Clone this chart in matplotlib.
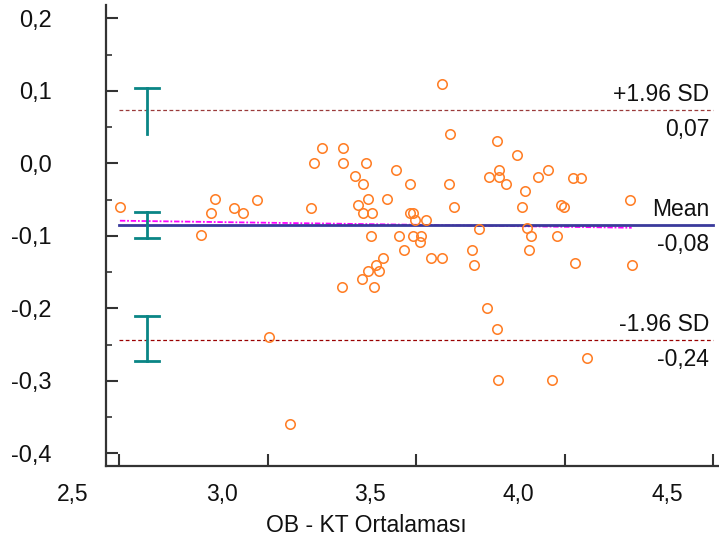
import matplotlib
matplotlib.use("Agg")
import matplotlib.pyplot as plt
from matplotlib.transforms import ScaledTranslation
import numpy as np

plt.rcParams['font.family'] = ['Liberation Sans', 'DejaVu Sans']

# ---- data ----
mean_x = [2.503, 2.776, 2.810, 2.823, 2.887, 2.919, 2.963, 3.005, 3.076, 3.145,
          3.155, 3.185, 3.253, 3.253, 3.250, 3.296, 3.304, 3.317, 3.321, 3.321,
          3.333, 3.338, 3.337, 3.347, 3.351, 3.359, 3.364, 3.374, 3.390, 3.402,
          3.432, 3.444, 3.458, 3.478, 3.479, 3.491, 3.496, 3.491, 3.512, 3.518,
          3.534, 3.552, 3.589, 3.589, 3.612, 3.615, 3.628, 3.688, 3.696, 3.713,
          3.738, 3.747, 3.772, 3.773, 3.776, 3.779, 3.781, 3.803, 3.841, 3.866,
          3.858, 3.875, 3.888, 3.879, 3.909, 3.943, 3.959, 3.976, 3.988, 3.997,
          4.027, 4.034, 4.057, 4.074, 4.221, 4.226]
diff_y = [-0.060, -0.099, -0.069, -0.049, -0.061, -0.069, -0.050, -0.239, -0.359, -0.061,
          0.001, 0.021, 0.021, 0.001, -0.170, -0.018, -0.058, -0.160, -0.028, -0.069,
          0.001, -0.049, -0.149, -0.100, -0.069, -0.170, -0.140, -0.149, -0.130, -0.049,
          -0.009, -0.100, -0.119, -0.028, -0.068, -0.068, -0.078, -0.100, -0.109, -0.100,
          -0.078, -0.130, -0.130, 0.110, -0.028, 0.041, -0.060, -0.119, -0.140, -0.090,
          -0.199, -0.019, -0.229, 0.031, -0.299, -0.019, -0.009, -0.028, 0.012, -0.038,
          -0.060, -0.089, -0.100, -0.120, -0.019, -0.009, -0.299, -0.100, -0.058, -0.060,
          -0.020, -0.138, -0.020, -0.269, -0.050, -0.140]

mean_diff = -0.085
upper_loa = 0.0735
lower_loa = -0.2437
line_x = [2.5, 4.5]

# regression line end values (at min and max of x)
reg_y = [-0.0792, -0.0889]

# confidence intervals of mean and limits
ci_x = 2.595
ci_upper = [0.0404, 0.1034]
ci_mean = [-0.103, -0.0668]
ci_lower = [-0.2731, -0.2106]

x_ticks = [2.5, 3.0, 3.5, 4.0, 4.5]
x_ticklabels = ['2,5', '3,0', '3,5', '4,0', '4,5']
y_ticks = [-0.4, -0.3, -0.2, -0.1, 0.0, 0.1, 0.2]
y_ticklabels = ['-0,4', '-0,3', '-0,2', '-0,1', '0,0', '0,1', '0,2']
y_minor = [-0.35, -0.25, -0.15, -0.05, 0.05, 0.15]

labels_above = ['+1.96 SD', 'Mean', '-1.96 SD']
labels_below = ['0,07', '-0,08', '-0,24']
xlabel = 'OB - KT Ortalaması'

# ---- figure ----
fig = plt.figure(figsize=(7.19, 5.43), dpi=100)
ax = fig.add_axes([106/719, 77/543, 613/719, 461/543])

ax.set_xlim(2.4562, 4.520)
ax.set_ylim(-0.4175, 0.2183)

# limits of agreement
ax.plot(line_x, [upper_loa]*2, color='#9a3a3a', lw=0.9, ls=(0, (3, 2)), zorder=2)
ax.plot(line_x, [lower_loa]*2, color='#990000', lw=0.9, ls=(0, (3, 2)), zorder=2)
# regression line
ax.plot([min(mean_x), max(mean_x)], reg_y, color='#ff00ff', lw=1.3,
        ls=(0, (3, 1, 1, 1)), zorder=2)
# mean line
ax.plot(line_x, [mean_diff]*2, color='#3a3a9c', lw=2.0, zorder=3)

# confidence intervals
teal = '#0a8585'
cap = 0.04
for lo, hi, caps in [(ci_upper[0], ci_upper[1], 'top'),
                     (ci_mean[0], ci_mean[1], 'both'),
                     (ci_lower[0], ci_lower[1], 'both')]:
    ax.plot([ci_x, ci_x], [lo, hi], color=teal, lw=2.0, zorder=4)
    ax.plot([ci_x - cap, ci_x + cap], [hi, hi], color=teal, lw=2.0, zorder=4)
    if caps == 'both':
        ax.plot([ci_x - cap, ci_x + cap], [lo, lo], color=teal, lw=2.0, zorder=4)

# points
ax.plot(mean_x, diff_y, ls='none', marker='o', ms=6.8, mfc='none',
        mec='#ff7f27', mew=1.15, zorder=5)

# right-side labels
xr = 4.487
for lvl, ta, tb in zip([upper_loa, mean_diff, lower_loa], labels_above, labels_below):
    ax.annotate(ta, xy=(xr, lvl), xytext=(0, 6.5), textcoords='offset points',
                ha='right', va='baseline', fontsize=16.5, color='#111111')
    ax.annotate(tb, xy=(xr, lvl), xytext=(0, -19), textcoords='offset points',
                ha='right', va='baseline', fontsize=16.5, color='#111111')

# axes styling
for s in ['top', 'right']:
    ax.spines[s].set_visible(False)
for s in ['left', 'bottom']:
    ax.spines[s].set_linewidth(1.6)
    ax.spines[s].set_color('#333333')

ax.set_xticks(x_ticks)
ax.set_xticklabels(x_ticklabels)
ax.set_yticks(y_ticks)
ax.set_yticklabels(y_ticklabels)
ax.set_yticks(y_minor, minor=True)

ax.tick_params(axis='both', which='major', direction='in', length=8.8, width=1.5,
               color='#333333', labelsize=16.5, labelcolor='#111111')
ax.tick_params(axis='y', which='minor', direction='in', length=4.4, width=1.2,
               color='#333333')
ax.tick_params(axis='y', which='major', pad=39, labelsize=17)
ax.tick_params(axis='x', which='major', pad=12)

offset = ScaledTranslation(-46/100, 0, fig.dpi_scale_trans)
for t in ax.xaxis.get_major_ticks():
    t.label1.set_transform(t.label1.get_transform() + offset)

ax.set_xlabel(xlabel, fontsize=16.5, color='#111111', labelpad=6)
ax.xaxis.label.set_transform(ax.xaxis.label.get_transform() + offset)

fig.savefig('out.png', dpi=100)
